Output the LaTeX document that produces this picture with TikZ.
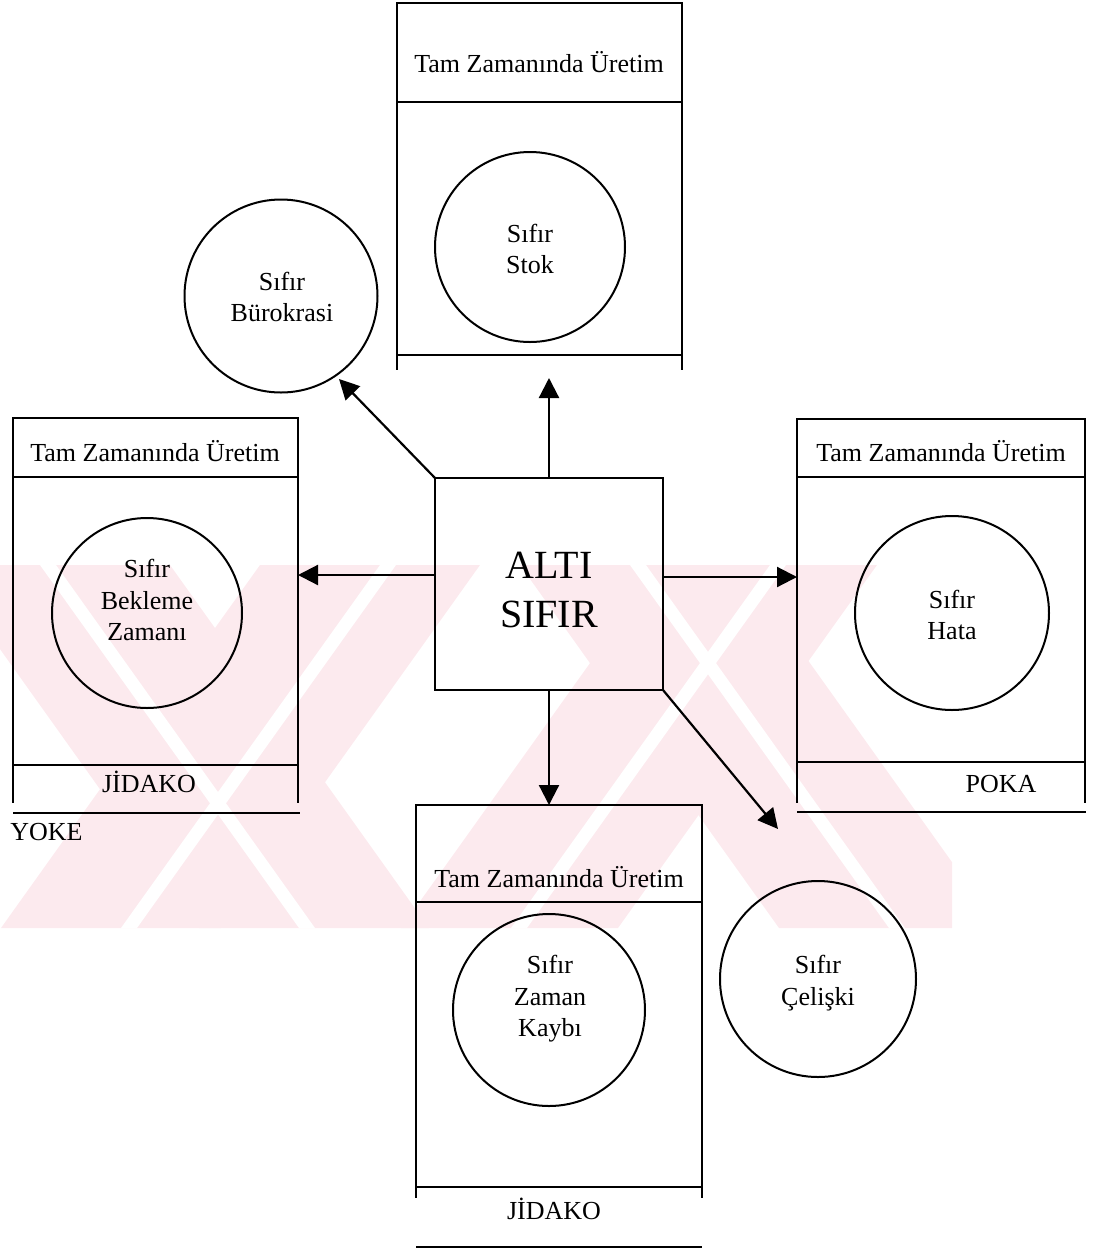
\documentclass[tikz,border=0pt]{standalone}
\usepackage{fontspec}
\setmainfont{Liberation Serif}
\usetikzlibrary{arrows.meta,fit}
\definecolor{wmpink}{RGB}{252,234,238}
\begin{document}
\begin{tikzpicture}[x=0.5pt,y=-0.5pt,
  boxline/.style={line width=1.3pt},
  frame/.style={draw,rectangle,line width=1.3pt,inner sep=0pt,outer sep=0pt},
  ring/.style={draw,circle,line width=1pt,inner sep=0pt,minimum size=#1},
  lbl/.style={font=\fontsize{13pt}{15.75pt}\selectfont,inner sep=0pt,align=center},
  biglbl/.style={font=\fontsize{20pt}{24.5pt}\selectfont,inner sep=0pt,align=center},
  arr/.style={line width=1.1pt,-{Triangle[length=10pt,width=10pt]}},
]
\useasboundingbox (0,0) rectangle (1096,1249);

% faint background emblem
\begin{scope}
  \clip (0,565) rectangle (952,928);
  \fill[wmpink] (-60,565) -- (170,565) -- (429,928) -- (199,928) -- cycle;
  \fill[wmpink] (260,565) -- (480,565) -- (221,928) -- (1,928) -- cycle;
  \fill[wmpink] (520,565) -- (740,565) -- (999,928) -- (779,928) -- cycle;
  \fill[wmpink] (660,565) -- (877,565) -- (618,928) -- (401,928) -- cycle;
  \fill[white] (40,565) -- (56,565) -- (315,928) -- (299,928) -- cycle;
  \fill[white] (380,565) -- (396,565) -- (137,928) -- (121,928) -- cycle;
  \fill[white] (630,565) -- (646,565) -- (905,928) -- (889,928) -- cycle;
  \fill[white] (770,565) -- (786,565) -- (527,928) -- (511,928) -- cycle;
\end{scope}

% top panel
\node[frame,fit={(397,3) (682,355)}] (tbox) {};
\draw[boxline] (tbox.west |- 0,102) -- (tbox.east |- 0,102);
\draw[boxline] (tbox.south west) -- ++(0,15);
\draw[boxline] (tbox.south east) -- ++(0,15);
\node[lbl,anchor=base] (thead) at (539,72) {Tam Zamanında Üretim};
\node[ring=95pt] (stok) at (530,247) {};
\node[lbl] (stoktxt) at (530,249) {Sıfır\\Stok};

% left panel
\node[frame,fit={(13,418) (298,765)}] (lbox) {};
\draw[boxline] (lbox.west |- 0,477) -- (lbox.east |- 0,477);
\draw[boxline] (lbox.south west) -- ++(0,38);
\draw[boxline] (lbox.south east) -- ++(0,38);
\coordinate (lbase1) at (13,813);
\coordinate (lbase2) at (300,813);
\draw[boxline] (lbase1) -- (lbase2);
\node[lbl,anchor=base] (lhead) at (155,461) {Tam Zamanında Üretim};
\node[ring=95pt] (bekle) at (147,613) {};
\node[lbl] (bekletxt) at (147,600) {Sıfır\\Bekleme\\Zamanı};
\node[lbl,anchor=base] (ljid) at (149,792) {JİDAKO};
\node[lbl,anchor=base west] (yoke) at (10,840) {YOKE};

% right panel
\node[frame,fit={(797,419) (1085,762)}] (rbox) {};
\draw[boxline] (rbox.west |- 0,477) -- (rbox.east |- 0,477);
\draw[boxline] (rbox.south west) -- ++(0,41);
\draw[boxline] (rbox.south east) -- ++(0,41);
\coordinate (rbase1) at (797,812);
\coordinate (rbase2) at (1086,812);
\draw[boxline] (rbase1) -- (rbase2);
\node[lbl,anchor=base] (rhead) at (941,461) {Tam Zamanında Üretim};
\node[ring=97pt] (hata) at (952,613) {};
\node[lbl] (hatatxt) at (952,615) {Sıfır\\Hata};
\node[lbl,anchor=base] (poka) at (1001,792) {POKA};

% bottom panel
\node[frame,fit={(416,805) (702,1187)}] (bbox) {};
\draw[boxline] (bbox.west |- 0,902) -- (bbox.east |- 0,902);
\draw[boxline] (bbox.south west) -- ++(0,11);
\draw[boxline] (bbox.south east) -- ++(0,11);
\coordinate (bbase1) at (416,1247);
\coordinate (bbase2) at (702,1247);
\draw[boxline] (bbase1) -- (bbase2);
\node[lbl,anchor=base] (bhead) at (559,887) {Tam Zamanında Üretim};
\node[ring=96pt] (kayip) at (549,1010) {};
\node[lbl] (kayiptxt) at (550,999) {Sıfır\\Zaman\\Kaybı};
\node[lbl,anchor=base] (bjid) at (554,1219) {JİDAKO};

% free circles
\node[ring=96.5pt] (buro) at (281,296) {};
\node[lbl] (burotxt) at (282,297) {Sıfır\\Bürokrasi};
\node[ring=98pt] (celiski) at (818,979) {};
\node[lbl] (celiskitxt) at (818,983) {Sıfır\\Çelişki};

% centre
\node[frame,fit={(435,478) (663,690)}] (alti) {};
\node[biglbl] (altitxt) at (549,590) {ALTI\\SIFIR};

% connectors
\coordinate (stoktip) at (549,378);
\coordinate (burotip) at (339,379);
\coordinate (celtip) at (778,829);
\draw[arr] (alti.north) -- (stoktip);
\draw[arr] (alti.north west) -- (burotip);
\draw[arr] (alti.west |- 0,575) -- (lbox.east |- 0,575);
\draw[arr] (alti.east |- 0,577) -- (rbox.west |- 0,577);
\draw[arr] (alti.south) -- (alti.south |- bbox.north);
\draw[arr] (alti.south east) -- (celtip);
\end{tikzpicture}
\end{document}
